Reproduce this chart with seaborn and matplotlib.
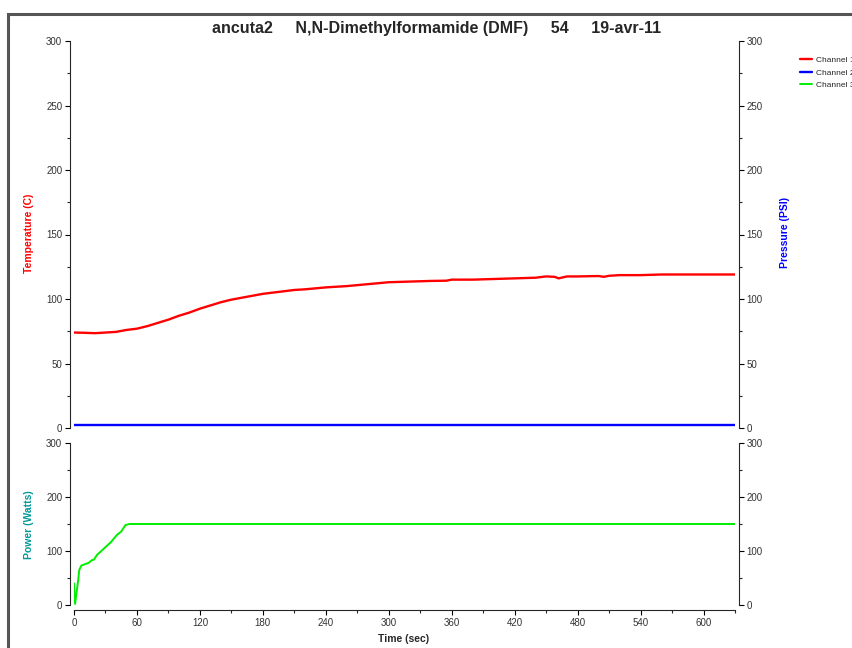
import numpy as np
import pandas as pd
import matplotlib
matplotlib.use('Agg')
import matplotlib.pyplot as plt
from matplotlib.patches import Rectangle
from matplotlib.ticker import MultipleLocator
import seaborn as sns

sns.set_style('ticks')
plt.rcParams['font.family'] = ['Liberation Sans', 'DejaVu Sans']

# Channel 1 - temperature (C)
temp_time = [0, 10, 20, 30, 40, 50, 60, 70, 80, 90, 100, 110, 120, 130, 140, 150,
             160, 170, 180, 190, 200, 210, 220, 240, 260, 280, 300, 320, 340, 355,
             360, 380, 400, 420, 440, 450, 458, 462, 466, 470, 480, 500, 505, 510,
             520, 540, 560, 580, 600, 630]
temp_vals = [74, 73.8, 73.5, 74, 74.5, 76, 77, 79, 81.5, 84, 87, 89.5, 92.5, 95,
             97.5, 99.5, 101, 102.5, 104, 105, 106, 107, 107.5, 109, 110, 111.5,
             113, 113.5, 114, 114.2, 115, 115, 115.5, 116, 116.5, 117.5, 117.2,
             116, 116.8, 117.5, 117.5, 117.8, 117.2, 118, 118.5, 118.5, 119, 119,
             119, 119]

# Channel 2 - pressure (PSI)
pres_time = [0, 630]
pres_vals = [2, 2]

# Channel 3 - power (Watts)
pow_time = [0, 1, 4, 5, 7, 11, 14, 17, 19, 22, 26, 31, 35, 41, 45, 49, 53, 630]
pow_vals = [40, 2, 46, 65, 73, 76, 78, 83, 84, 93, 100, 109, 116, 130, 136, 148, 150, 150]

title = 'ancuta2     N,N-Dimethylformamide (DMF)     54     19-avr-11'

PX = 72 / 100  # pixels -> points

fig = plt.figure(figsize=(8.53, 6.48), dpi=100)
fig.patches.append(Rectangle((8 / 853, -0.1), 1.0, 1 - 14 / 648 + 0.1,
                             transform=fig.transFigure, fill=False,
                             edgecolor='#555555', lw=2.2))

ax1 = fig.add_axes([74 / 853, 1 - 428 / 648, 661 / 853, 387 / 648])
ax2 = fig.add_axes([74 / 853, 1 - 605 / 648, 661 / 853, 162 / 648])

df_t = pd.DataFrame({'t': temp_time, 'v': temp_vals})
df_p = pd.DataFrame({'t': pres_time, 'v': pres_vals})
df_w = pd.DataFrame({'t': pow_time, 'v': pow_vals})

ax1b = ax1.twinx()
sns.lineplot(data=df_t, x='t', y='v', ax=ax1, color='#ff0000', lw=1.7,
             estimator=None, label='Channel 1', legend=False)
sns.lineplot(data=df_p, x='t', y='v', ax=ax1b, color='#0000ff', lw=1.7,
             estimator=None, label='Channel 2', legend=False)
sns.lineplot(data=df_w, x='t', y='v', ax=ax2, color='#00ee00', lw=1.4,
             estimator=None, label='Channel 3', legend=False)
ax2b = ax2.twinx()

tick_col = '#333333'
for a in (ax1, ax1b, ax2, ax2b):
    a.set_xlim(0, 630)
    a.set_ylim(0, 300)
    a.set_xlabel('')
    a.set_ylabel('')
    a.spines['top'].set_visible(False)
    a.tick_params(which='major', length=5 * PX, width=0.8, labelsize=7, colors='black',
                  labelcolor=tick_col, direction='out', pad=2)
    a.tick_params(which='minor', length=3 * PX, width=0.8, direction='out')

for a in (ax1, ax1b):
    a.yaxis.set_major_locator(MultipleLocator(50))
    a.yaxis.set_minor_locator(MultipleLocator(25))
    a.spines['bottom'].set_visible(False)
    a.tick_params(axis='x', which='both', bottom=False, labelbottom=False)

for a in (ax2, ax2b):
    a.yaxis.set_major_locator(MultipleLocator(100))
    a.yaxis.set_minor_locator(MultipleLocator(50))

ax1.spines['right'].set_visible(False)
ax2.spines['right'].set_visible(False)
ax1b.spines['left'].set_visible(False)
ax2b.spines['left'].set_visible(False)
for a in (ax1, ax2):
    a.spines['left'].set_position(('outward', 4 * PX))
for a in (ax1b, ax2b):
    a.spines['right'].set_position(('outward', 4 * PX))
ax2.spines['bottom'].set_position(('outward', 5 * PX))
ax2b.spines['bottom'].set_visible(False)

ax2.xaxis.set_major_locator(MultipleLocator(60))
ax2.xaxis.set_minor_locator(MultipleLocator(30))

fig.text(437 / 853, 1 - 28 / 648, title, ha='center', va='center',
         fontsize=11.5, fontweight='bold')
fig.text(29 / 853, 1 - 233 / 648, 'Temperature (C)', rotation=90, ha='center',
         va='center', fontsize=7.5, fontweight='bold', color='#ff0000')
fig.text(785 / 853, 1 - 233 / 648, 'Pressure (PSI)', rotation=90, ha='center',
         va='center', fontsize=7.5, fontweight='bold', color='#0000ff')
fig.text(29 / 853, 1 - 525 / 648, 'Power (Watts)', rotation=90, ha='center',
         va='center', fontsize=7.5, fontweight='bold', color='#009999')
fig.text(404 / 853, 1 - 639 / 648, 'Time (sec)', ha='center', va='center',
         fontsize=7.5, fontweight='bold')

handles = ax1.get_lines()[:1] + ax1b.get_lines()[:1] + ax2.get_lines()[:1]
fig.legend(handles, ['Channel 1', 'Channel 2', 'Channel 3'], loc='upper left',
           bbox_to_anchor=(793 / 853, 1 - 49 / 648), frameon=False, fontsize=6,
           handlelength=1.4, handletextpad=0.5, labelspacing=0.55)

plt.savefig('out.png', dpi=100)
